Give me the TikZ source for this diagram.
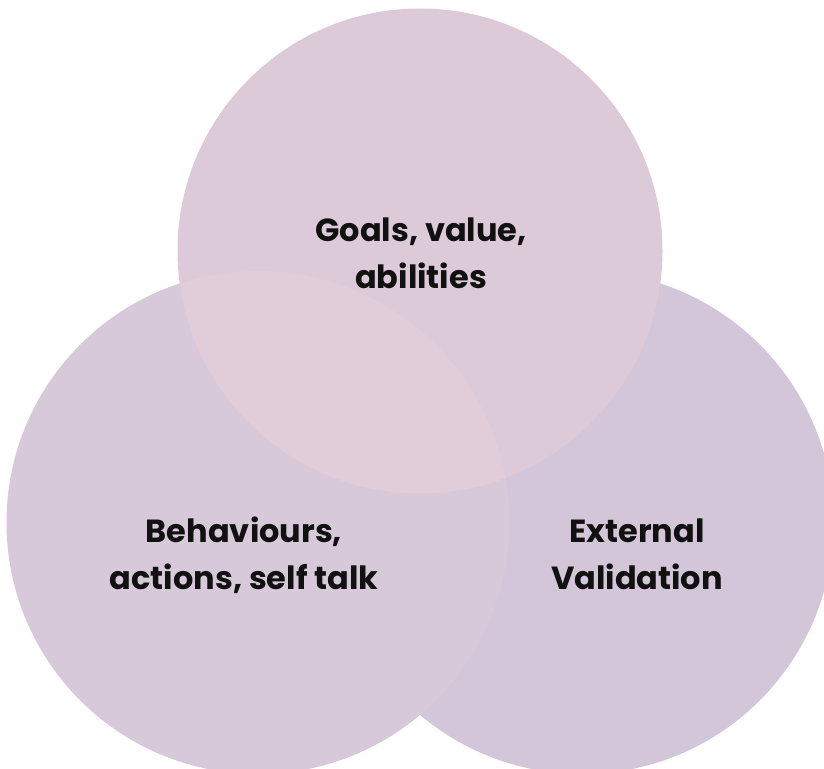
\documentclass[tikz,border=0pt]{standalone}
\usepackage{fontspec}
\newfontfamily\labelfont{Poppins}
\definecolor{topfill}{HTML}{DCCAD9}
\definecolor{leftfill}{HTML}{D7C9DA}
\definecolor{rightfill}{HTML}{D3C6D8}
\definecolor{lensfill}{HTML}{E1CDDA}
\definecolor{ink}{HTML}{111111}
\begin{document}
\begin{tikzpicture}[x=1pt,y=-1pt,
  disc/.style={circle, inner sep=0pt, minimum size=#1, draw=none},
  lbl/.style={align=center, text=ink, font=\labelfont\bfseries\fontsize{32}{47}\selectfont}]
\useasboundingbox (0,0) rectangle (824,768);
\fill[white] (0,0) rectangle (824,768);
% three circles, back to front
\node[disc=503pt, fill=rightfill] (right) at (582,522.5) {};
\node[disc=503pt, fill=leftfill] (left) at (258,522.5) {};
\node[disc=485pt, fill=topfill] (top) at (420,251) {};
% lighter lens where the top and left circles overlap
\begin{scope}
  \clip (258,522.5) circle (251.5);
  \fill[lensfill] (420,251) circle (242.5);
\end{scope}
% labels (anchor base = baseline of the last line)
\node[lbl, anchor=base] (goals) at (421,288) {Goals, value,\\abilities};
\node[lbl, anchor=base] (behav) at (244,589) {Behaviours,\\actions, self talk};
\node[lbl, anchor=base] (ext) at (637,589) {External\\Validation};
\end{tikzpicture}
\end{document}
